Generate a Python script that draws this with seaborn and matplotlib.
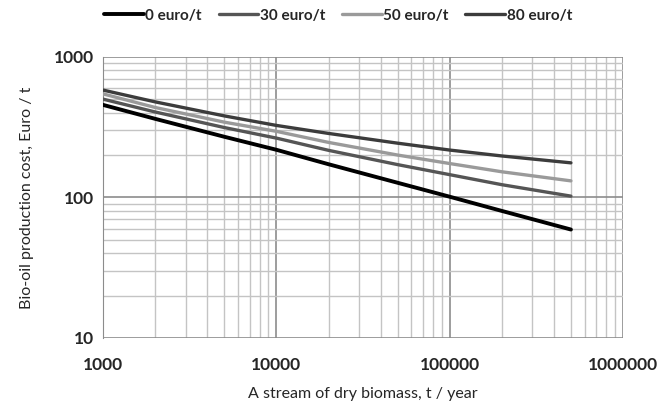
import matplotlib
matplotlib.use("Agg")
import matplotlib.pyplot as plt
import matplotlib.ticker as mticker
import pandas as pd
import seaborn as sns

# Values
biomass = [1000, 2000, 5000, 10000, 20000, 50000, 100000, 200000, 500000]
cost_0 = [455, 362, 270, 218, 172, 127, 101, 80, 59]
cost_30 = [500, 405, 314, 264, 216, 171, 145, 123, 102]
cost_50 = [545, 436, 343, 295, 246, 200, 174, 152, 131]
cost_80 = [580, 478, 380, 325, 285, 243, 217, 197, 176]
series_labels = ["0 euro/t", "30 euro/t", "50 euro/t", "80 euro/t"]

frames = []
for label, vals in zip(series_labels, [cost_0, cost_30, cost_50, cost_80]):
    frames.append(pd.DataFrame({"biomass": biomass, "cost": vals, "price": label}))
df = pd.concat(frames, ignore_index=True)

sns.set_style("white")
plt.rcParams["font.family"] = ["Lato", "DejaVu Sans"]

fig = plt.figure(figsize=(6.65, 4.09), dpi=100)
ax = fig.add_axes([0.155, 0.174, 0.782, 0.687])

palette = {"0 euro/t": "#000000", "30 euro/t": "#555555",
           "50 euro/t": "#9a9a9a", "80 euro/t": "#3c3c3c"}
widths = {"0 euro/t": 2.8, "30 euro/t": 2.4, "50 euro/t": 2.4, "80 euro/t": 2.4}

for label in series_labels:
    sub = df[df["price"] == label]
    sns.lineplot(data=sub, x="biomass", y="cost", color=palette[label],
                 linewidth=widths[label], label=label, ax=ax, zorder=3)

ax.set_xscale("log")
ax.set_yscale("log")
ax.set_xlim(1000, 1000000)
ax.set_ylim(10, 1000)

ax.xaxis.set_major_locator(mticker.LogLocator(base=10))
ax.xaxis.set_minor_locator(mticker.LogLocator(base=10, subs=range(2, 10)))
ax.yaxis.set_major_locator(mticker.LogLocator(base=10))
ax.yaxis.set_minor_locator(mticker.LogLocator(base=10, subs=range(2, 10)))
ax.xaxis.set_major_formatter(mticker.FuncFormatter(lambda v, p: f"{int(v)}"))
ax.yaxis.set_major_formatter(mticker.FuncFormatter(lambda v, p: f"{int(v)}"))
ax.xaxis.set_minor_formatter(mticker.NullFormatter())
ax.yaxis.set_minor_formatter(mticker.NullFormatter())

ax.grid(True, which="major", color="#8c8c8c", linewidth=1.2)
ax.grid(True, which="minor", color="#c4c4c4", linewidth=1.0)

for s in ["top", "right", "bottom"]:
    ax.spines[s].set_visible(False)
ax.spines["left"].set_color("#8c8c8c")
ax.tick_params(axis="y", which="major", length=5, color="#8c8c8c",
               direction="inout", pad=4)
ax.tick_params(axis="y", which="minor", length=0)
ax.tick_params(axis="x", which="both", length=0, pad=14)
for t in ax.get_xticklabels() + ax.get_yticklabels():
    t.set_fontweight("bold")
    t.set_fontsize(12.5)

ax.set_xlabel("A stream of dry biomass, t / year", fontsize=11.5, labelpad=10)
ax.set_ylabel("Bio-oil production cost, Euro / t", fontsize=11.5, labelpad=14)

leg = ax.legend(loc="lower left", bbox_to_anchor=(-0.01, 1.1), ncol=4,
                frameon=False, handlelength=2.6, handletextpad=0.1,
                columnspacing=1.1, borderaxespad=0,
                prop={"weight": "bold", "size": 11})

fig.savefig("out.png", dpi=100)
